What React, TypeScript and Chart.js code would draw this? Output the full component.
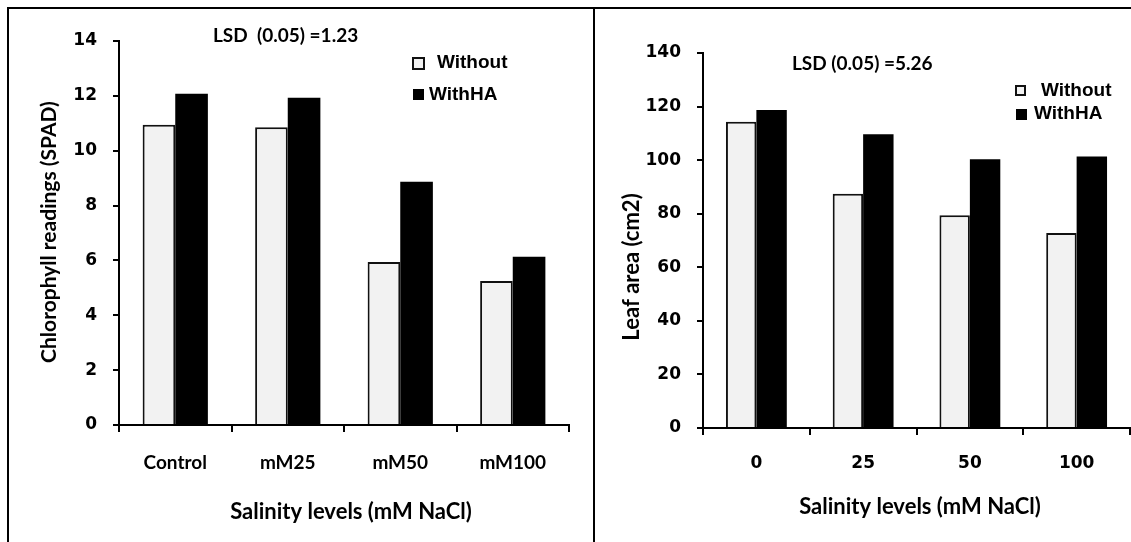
import React, { useEffect, useRef } from "react";
import { Chart, registerables } from "chart.js";

Chart.register(...registerables);

// ---------- data ----------
const seriesLabels = ["Without", "WithHA"];

const leftCategories = ["Control", "mM25", "mM50", "mM100"];
const leftWithout = [10.95, 10.86, 5.94, 5.25];
const leftWithHA = [12.08, 11.93, 8.87, 6.13];
const leftYMax = 14;
const leftYStep = 2;
const leftYTitle = "Chlorophyll readings (SPAD)";
const leftLSD = "LSD  (0.05) =1.23";

const rightCategories = ["0", "25", "50", "100"];
const rightWithout = [114.3, 87.5, 79.4, 72.8];
const rightWithHA = [118.7, 109.7, 100.3, 101.4];
const rightYMax = 140;
const rightYStep = 20;
const rightYTitle = "Leaf area (cm2)";
const rightLSD = "LSD (0.05) =5.26";

const xTitle = "Salinity levels (mM NaCl)";

const ARIAL = "'Liberation Sans', Arial, sans-serif";
const WIDE = "'DejaVu Sans', 'Liberation Sans', sans-serif";
const CALIBRI = "Lato, 'Open Sans', sans-serif";

type PanelCfg = {
  width: number;
  height: number;
  categories: string[];
  without: number[];
  withHA: number[];
  yMax: number;
  yStep: number;
  yTitle: string;
  yTitleSize: number;
  lsd: string;
  xTickFont: string;
  xTickSize: number;
  yAxisWidth: number;
  xAxisHeight: number;
  padding: { left: number; top: number; right: number; bottom: number };
  catPct: number;
  xTickPadding: number;
  xTitlePos: [number, number];
  yTitlePos: [number, number];
  lsdPos: [number, number];
  legend: { box: [number, number, number]; text: [number, number] }[];
};

function makeAnnotPlugin(cfg: PanelCfg) {
  return {
    id: "annot",
    afterDraw(chart: any) {
      const ctx: CanvasRenderingContext2D = chart.ctx;
      ctx.save();
      ctx.fillStyle = "#000";
      ctx.textBaseline = "middle";
      // x title
      ctx.font = `bold 22px ${CALIBRI}`;
      ctx.textAlign = "center";
      ctx.fillText(xTitle, cfg.xTitlePos[0], cfg.xTitlePos[1]);
      // y title
      ctx.save();
      ctx.font = `bold ${cfg.yTitleSize}px ${CALIBRI}`;
      ctx.translate(cfg.yTitlePos[0], cfg.yTitlePos[1]);
      ctx.rotate(-Math.PI / 2);
      ctx.fillText(cfg.yTitle, 0, 0);
      ctx.restore();
      // LSD
      ctx.font = `bold 19px ${CALIBRI}`;
      ctx.textAlign = "left";
      ctx.fillText(cfg.lsd, cfg.lsdPos[0], cfg.lsdPos[1]);
      // legend
      ctx.font = `bold 19px ${ARIAL}`;
      cfg.legend.forEach((item, i) => {
        const [bx, by, bs] = item.box;
        if (i === 0) {
          ctx.fillStyle = "#f2f2f2";
          ctx.fillRect(bx, by, bs, bs);
          ctx.strokeStyle = "#111";
          ctx.lineWidth = 2;
          ctx.strokeRect(bx + 1, by + 1, bs - 2, bs - 2);
        } else {
          ctx.fillStyle = "#000";
          ctx.fillRect(bx, by, bs, bs);
        }
        ctx.fillStyle = "#000";
        ctx.fillText(seriesLabels[i], item.text[0], item.text[1]);
      });
      ctx.restore();
    },
  };
}

function Panel({ cfg, left }: { cfg: PanelCfg; left: number }) {
  const ref = useRef<HTMLCanvasElement | null>(null);
  useEffect(() => {
    if (!ref.current) return;
    const chart = new Chart(ref.current, {
      type: "bar",
      data: {
        labels: cfg.categories,
        datasets: [
          {
            label: seriesLabels[0],
            data: cfg.without,
            backgroundColor: "#f2f2f2",
            borderColor: "#111",
            borderWidth: 2,
            borderSkipped: "bottom",
            categoryPercentage: cfg.catPct,
            barPercentage: 1,
          },
          {
            label: seriesLabels[1],
            data: cfg.withHA,
            backgroundColor: "#000",
            borderColor: "#000",
            borderWidth: 0,
            categoryPercentage: cfg.catPct,
            barPercentage: 1,
          },
        ],
      },
      options: {
        animation: false,
        responsive: false,
        devicePixelRatio: 1,
        layout: { padding: cfg.padding },
        plugins: {
          legend: { display: false },
          tooltip: { enabled: false },
          title: { display: false },
        },
        scales: {
          x: {
            type: "category",
            offset: true,
            grid: {
              display: true,
              offset: true,
              drawOnChartArea: false,
              drawTicks: true,
              tickLength: 7,
              color: "#000",
              lineWidth: 2,
            },
            border: { display: true, color: "#000", width: 2 },
            ticks: {
              color: "#000",
              font: { family: cfg.xTickFont, weight: "bold", size: cfg.xTickSize },
              padding: cfg.xTickPadding,
              maxRotation: 0,
              autoSkip: false,
            },
            afterFit: (s: any) => {
              s.height = cfg.xAxisHeight;
            },
          },
          y: {
            min: 0,
            max: cfg.yMax,
            grid: {
              display: true,
              drawOnChartArea: false,
              drawTicks: true,
              tickLength: 6,
              color: "#000",
              lineWidth: 2,
            },
            border: { display: true, color: "#000", width: 2 },
            ticks: {
              stepSize: cfg.yStep,
              color: "#000",
              font: { family: WIDE, weight: "bold", size: 17 },
              padding: 16,
            },
            afterFit: (s: any) => {
              s.width = cfg.yAxisWidth;
            },
          },
        },
      } as any,
      plugins: [makeAnnotPlugin(cfg)],
    });
    return () => chart.destroy();
  }, [cfg]);
  return (
    <canvas
      ref={ref}
      width={cfg.width}
      height={cfg.height}
      style={{ position: "absolute", left, top: 9, width: cfg.width, height: cfg.height }}
    />
  );
}

const leftCfg: PanelCfg = {
  width: 584,
  height: 533,
  categories: leftCategories,
  without: leftWithout,
  withHA: leftWithHA,
  yMax: leftYMax,
  yStep: leftYStep,
  yTitle: leftYTitle,
  yTitleSize: 21,
  lsd: leftLSD,
  xTickFont: CALIBRI,
  xTickSize: 19,
  yAxisWidth: 110,
  xAxisHeight: 117,
  padding: { left: 0, top: 32, right: 24, bottom: 0 },
  catPct: 0.58,
  xTickPadding: 19,
  xTitlePos: [342, 503],
  yTitlePos: [40, 223],
  lsdPos: [204, 27],
  legend: [
    { box: [403, 48, 13], text: [428, 54] },
    { box: [404, 80, 11], text: [420, 86] },
  ],
};

const rightCfg: PanelCfg = {
  width: 536,
  height: 533,
  categories: rightCategories,
  without: rightWithout,
  withHA: rightWithHA,
  yMax: rightYMax,
  yStep: rightYStep,
  yTitle: rightYTitle,
  yTitleSize: 22,
  lsd: rightLSD,
  xTickFont: WIDE,
  xTickSize: 17,
  yAxisWidth: 108,
  xAxisHeight: 114,
  padding: { left: 0, top: 44, right: 1, bottom: 0 },
  catPct: 0.57,
  xTickPadding: 18,
  xTitlePos: [325, 498],
  yTitlePos: [37, 258],
  lsdPos: [197, 55],
  legend: [
    { box: [420, 76, 11], text: [446, 82] },
    { box: [421, 100, 11], text: [439, 105] },
  ],
};

export default function App() {
  return (
    <div style={{ position: "absolute", left: 0, top: 0, width: 1131, height: 542, background: "#fff", overflow: "hidden" }}>
      <div style={{ position: "absolute", left: 7, top: 7, width: 1124, height: 2, background: "#000" }} />
      <div style={{ position: "absolute", left: 7, top: 7, width: 2, height: 535, background: "#000" }} />
      <div style={{ position: "absolute", left: 593, top: 7, width: 2, height: 535, background: "#000" }} />
      <Panel cfg={leftCfg} left={9} />
      <Panel cfg={rightCfg} left={595} />
    </div>
  );
}
